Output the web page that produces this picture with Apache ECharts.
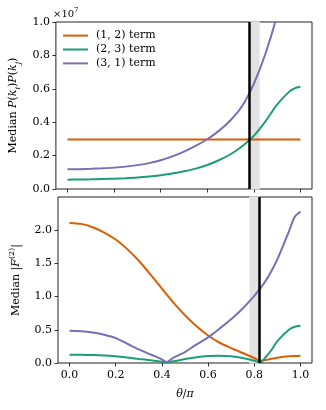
<!DOCTYPE html>
<html>
<head>
<meta charset="utf-8">
<script src="https://cdn.jsdelivr.net/npm/echarts@6/dist/echarts.min.js"></script>
<style>
  html, body { margin: 0; padding: 0; background: #fff; }
  #chart { width: 326px; height: 410px; }
</style>
</head>
<body>
<div id="chart"></div>
<script>
// theta/pi samples and values
const thetaTop = [0, 0.05, 0.1, 0.15, 0.2, 0.25, 0.3, 0.35, 0.4, 0.45, 0.5,
  0.55, 0.6, 0.65, 0.7, 0.75, 0.8, 0.85, 0.9, 0.95, 0.975, 1.0];
// top panel, in units of 1e7
const topTerm12 = [0.296, 0.296, 0.296, 0.296, 0.296, 0.296, 0.296, 0.296, 0.296, 0.296, 0.296,
  0.296, 0.296, 0.296, 0.296, 0.296, 0.296, 0.296, 0.296, 0.296, 0.296, 0.296];
const topTerm23 = [0.056, 0.057, 0.058, 0.06, 0.062, 0.065, 0.069, 0.075, 0.083, 0.093, 0.106,
  0.122, 0.144, 0.172, 0.208, 0.256, 0.318, 0.405, 0.505, 0.58, 0.603, 0.612];
const topTerm31 = [0.118, 0.119, 0.121, 0.124, 0.128, 0.134, 0.143, 0.155, 0.172, 0.195, 0.224,
  0.258, 0.298, 0.348, 0.412, 0.497, 0.63, 0.81, 1.04, 1.33, 1.48, 1.65];

const thetaBottom = [0, 0.05, 0.1, 0.15, 0.2, 0.25, 0.3, 0.35, 0.4, 0.42, 0.45, 0.5,
  0.55, 0.6, 0.65, 0.7, 0.75, 0.8, 0.825, 0.85, 0.875, 0.9, 0.95, 0.975, 1.0];
const botTerm12 = [2.11, 2.095, 2.045, 1.965, 1.86, 1.715, 1.54, 1.335, 1.12, 1.035, 0.91, 0.72,
  0.555, 0.415, 0.305, 0.225, 0.15, 0.075, 0.035, 0.045, 0.065, 0.08, 0.10, 0.105, 0.11];
const botTerm23 = [0.125, 0.124, 0.12, 0.113, 0.10, 0.082, 0.062, 0.042, 0.02, 0.01, 0.025, 0.06,
  0.088, 0.104, 0.11, 0.10, 0.075, 0.035, 0.01, 0.09, 0.2, 0.33, 0.5, 0.545, 0.56];
const botTerm31 = [0.485, 0.478, 0.458, 0.425, 0.375, 0.29, 0.205, 0.13, 0.055, 0.015, 0.08, 0.165,
  0.28, 0.385, 0.52, 0.66, 0.82, 1.01, 1.12, 1.24, 1.39, 1.56, 1.98, 2.2, 2.28];

const termNames = ['(1, 2) term', '(2, 3) term', '(3, 1) term'];
const termColors = ['#d95f02', '#1b9e77', '#7570b3'];
const xTicks = [0, 0.2, 0.4, 0.6, 0.8, 1.0];
const topYTicks = [0, 0.2, 0.4, 0.6, 0.8, 1.0];
const botYTicks = [0, 0.5, 1.0, 1.5, 2.0];
const bandRange = [0.78, 0.825];
const topMarker = 0.78;
const bottomMarker = 0.825;

const FONT = 'DejaVu Serif';
const rich = {
  r: { fontFamily: FONT, fontSize: 11, lineHeight: 16, color: '#000' },
  i: { fontFamily: FONT, fontSize: 11, lineHeight: 16, fontStyle: 'italic', color: '#000' },
  sub: { fontFamily: FONT, fontSize: 8, lineHeight: 8, fontStyle: 'italic', verticalAlign: 'bottom', color: '#000' },
  sup: { fontFamily: FONT, fontSize: 8, lineHeight: 8, verticalAlign: 'top', color: '#000' }
};

function pairs(xs, ys) {
  return xs.map((x, k) => [x, ys[k]]);
}

function xAxisCfg(gridIndex, showLabels) {
  return {
    type: 'value', gridIndex: gridIndex, min: -0.05, max: 1.05,
    axisLine: { show: false, onZero: false },
    axisTick: { show: true, inside: false, length: 3.5, lineStyle: { color: '#000', width: 0.8 }, customValues: xTicks },
    axisLabel: {
      show: showLabels, customValues: xTicks, margin: 7,
      fontFamily: FONT, fontSize: 11, color: '#000',
      formatter: v => v.toFixed(1)
    },
    splitLine: { show: false },
    name: showLabels ? '{i|θ}{r|/}{i|π}' : '',
    nameLocation: 'middle', nameGap: 23,
    nameTextStyle: { rich: rich }
  };
}

function yAxisCfg(gridIndex, max, ticks, name) {
  return {
    type: 'value', gridIndex: gridIndex, min: 0, max: max,
    axisLine: { show: false, onZero: false },
    axisTick: { show: true, inside: false, length: 3.5, lineStyle: { color: '#000', width: 0.8 }, customValues: ticks },
    axisLabel: {
      customValues: ticks, margin: 6,
      fontFamily: FONT, fontSize: 11, color: '#000',
      formatter: v => v.toFixed(1)
    },
    splitLine: { show: false },
    name: name, nameLocation: 'middle', nameRotate: 90, nameGap: 34,
    nameTextStyle: { rich: rich }
  };
}

function lineSeries(k, xs, ys, axisIdx) {
  return {
    name: termNames[k], type: 'line',
    xAxisIndex: axisIdx, yAxisIndex: axisIdx,
    data: pairs(xs, ys),
    symbol: 'none', smooth: 0.3,
    lineStyle: { color: termColors[k], width: 2 },
    itemStyle: { color: termColors[k] },
    z: 3
  };
}

function markerSeries(axisIdx, lineX) {
  return {
    type: 'line', xAxisIndex: axisIdx, yAxisIndex: axisIdx,
    data: [], silent: true, z: 5,
    markArea: {
      silent: true,
      itemStyle: { color: '#e2e2e2', borderColor: '#ececec', borderWidth: 1 },
      data: [[{ xAxis: bandRange[0] }, { xAxis: bandRange[1] }]]
    },
    markLine: {
      silent: true, symbol: ['none', 'none'], label: { show: false },
      lineStyle: { color: '#000', width: 2.5, type: 'solid' },
      data: [{ xAxis: lineX }]
    }
  };
}

const chart = echarts.init(document.getElementById('chart'), null, { renderer: 'canvas' });

chart.setOption({
  animation: false,
  backgroundColor: '#fff',
  grid: [
    { left: 53, right: 14, top: 22, height: 167, show: true, borderColor: '#222', borderWidth: 1, backgroundColor: 'transparent' },
    { left: 53, right: 14, top: 197, height: 166, show: true, borderColor: '#222', borderWidth: 1, backgroundColor: 'transparent' }
  ],
  xAxis: [xAxisCfg(0, false), xAxisCfg(1, true)],
  yAxis: [
    yAxisCfg(0, 1.0, topYTicks, '{r|Median }{i|P}{r|(}{i|k}{sub|i}{r|)}{i|P}{r|(}{i|k}{sub|j}{r|)}'),
    yAxisCfg(1, 2.5, botYTicks, '{r|Median |}{i|F}{sup|(2)}{r||}')
  ],
  legend: {
    show: true, orient: 'vertical', left: 62, top: 30, padding: 0,
    itemWidth: 25, itemHeight: 14, itemGap: 2.7,
    itemStyle: { opacity: 0 },
    lineStyle: { width: 2 },
    data: termNames,
    textStyle: { fontFamily: FONT, fontSize: 11, color: '#000', padding: [0, 0, 0, 3] }
  },
  graphic: [{
    type: 'text', left: 53, top: 7,
    style: {
      text: '{a|×10}{b|7}',
      rich: {
        a: { fontFamily: FONT, fontSize: 10, lineHeight: 14, color: '#000' },
        b: { fontFamily: FONT, fontSize: 7, lineHeight: 7, verticalAlign: 'top', color: '#000' }
      }
    }
  }],
  series: [
    markerSeries(0, topMarker),
    markerSeries(1, bottomMarker),
    lineSeries(0, thetaTop, topTerm12, 0),
    lineSeries(1, thetaTop, topTerm23, 0),
    lineSeries(2, thetaTop, topTerm31, 0),
    lineSeries(0, thetaBottom, botTerm12, 1),
    lineSeries(1, thetaBottom, botTerm23, 1),
    lineSeries(2, thetaBottom, botTerm31, 1)
  ]
});
</script>
</body>
</html>
